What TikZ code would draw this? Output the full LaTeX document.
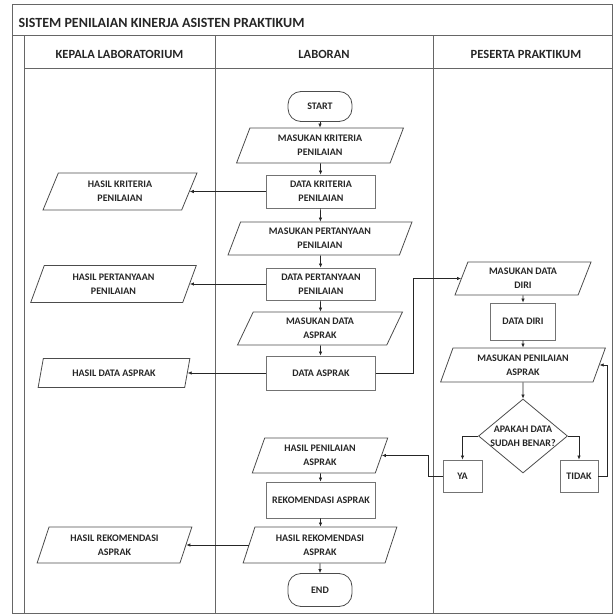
\documentclass[tikz,border=0pt]{standalone}
\usepackage{fontspec}
\setmainfont{Carlito}
\usetikzlibrary{shapes.geometric,arrows.meta}
\begin{document}
\begin{tikzpicture}[x=1pt,y=-1pt,
  frame/.style={draw=black!60, line width=1pt},
  txt/.style={font=\fontsize{10}{14}\selectfont\bfseries, align=center, text=black!85},
  io/.style={trapezium, trapezium left angle=70, trapezium right angle=110,
    trapezium stretches=true, draw=black!70, line width=0.8pt, inner sep=1pt, txt},
  proc/.style={rectangle, draw=black!55, line width=0.8pt, inner sep=1pt, txt},
  term/.style={rectangle, rounded corners=13pt, draw=black!70, line width=0.8pt,
    minimum width=64, minimum height=30, inner sep=1pt, txt},
  decision/.style={diamond, draw=black!70, line width=0.8pt, inner sep=0pt,
    minimum width=89, minimum height=74},
  arr/.style={draw=black!85, line width=0.7pt, -{Latex[length=4pt,width=3.5pt]}},
  hdr/.style={font=\fontsize{12.5}{15}\selectfont\bfseries, text=black!85}
]
\useasboundingbox (0,0) rectangle (616,615);

% frame of the swimlanes
\draw[frame] (12,5) rectangle (612,613);
\draw[frame] (12,36) -- (612,36);
\draw[frame] (24,69) -- (612,69);
\draw[frame] (24,36) -- (24,613);
\draw[frame] (215,36) -- (215,613);
\draw[frame] (433,36) -- (433,613);

\node[anchor=west, font=\fontsize{14}{16}\selectfont\bfseries, text=black!85] (title) at (15,22.5)
  {SISTEM PENILAIAN KINERJA ASISTEN PRAKTIKUM};
\node[hdr] (h1) at (119.5,54) {KEPALA LABORATORIUM};
\node[hdr] (h2) at (324,54) {LABORAN};
\node[hdr] (h3) at (526,54) {PESERTA PRAKTIKUM};

% LABORAN lane
\node[term] (start) at (320,106.5) {START};
\node[io, minimum width=167, minimum height=35] (mk) at (320,145.5) {MASUKAN KRITERIA\\PENILAIAN};
\node[proc, minimum width=109, minimum height=33] (dk) at (321,191.5) {DATA KRITERIA\\PENILAIAN};
\node[io, minimum width=184, minimum height=33] (mp) at (320,238.5) {MASUKAN PERTANYAAN\\PENILAIAN};
\node[proc, minimum width=109, minimum height=32] (dp) at (321,284) {DATA PERTANYAAN\\PENILAIAN};
\node[io, minimum width=166, minimum height=33] (mda) at (320,328.5) {MASUKAN DATA\\ASPRAK};
\node[proc, minimum width=109, minimum height=34] (da) at (321,373) {DATA ASPRAK};
\node[io, minimum width=136, minimum height=35] (hpa) at (320,455.5) {HASIL PENILAIAN\\ASPRAK};
\node[proc, minimum width=109, minimum height=36] (rek) at (321,500) {REKOMENDASI ASPRAK};
\node[io, minimum width=154, minimum height=36] (hra) at (320,545) {HASIL REKOMENDASI\\ASPRAK};
\node[term, minimum height=33] (end) at (320,590) {END};

% KEPALA LABORATORIUM lane
\node[io, minimum width=154, minimum height=37] (hk) at (120,191.5) {HASIL KRITERIA\\PENILAIAN};
\node[io, minimum width=167, minimum height=37] (hp) at (113.5,284) {HASIL PERTANYAAN\\PENILAIAN};
\node[io, minimum width=152, minimum height=29] (hd) at (114,373) {HASIL DATA ASPRAK};
\node[io, minimum width=155, minimum height=36] (hr) at (114.5,545) {HASIL REKOMENDASI\\ASPRAK};

% PESERTA PRAKTIKUM lane
\node[io, minimum width=137, minimum height=33] (mdd) at (523,278.5) {MASUKAN DATA\\DIRI};
\node[proc, minimum width=65, minimum height=37] (dd) at (523,321.5) {DATA DIRI};
\node[io, minimum width=165, minimum height=34] (mpa) at (523,365) {MASUKAN PENILAIAN\\ASPRAK};
\node[decision, label={[txt]center:{APAKAH DATA\\SUDAH BENAR?}}] (dia) at (523,436) {};
\node[proc, minimum width=39, minimum height=32] (ya) at (462.5,476) {YA};
\node[proc, minimum width=38, minimum height=32] (tidak) at (579,476) {TIDAK};

\coordinate (j1) at (413,373);
\coordinate (j2) at (607,476);
\coordinate (j3) at (428,476);

% flow in LABORAN
\draw[arr] (start) -- (mk);
\draw[arr] (mk) -- (dk);
\draw[arr] (dk) -- (mp);
\draw[arr] (mp) -- (dp);
\draw[arr] (dp) -- (mda);
\draw[arr] (mda) -- (da);
\draw[arr] (hpa) -- (rek);
\draw[arr] (rek) -- (hra);
\draw[arr] (hra) -- (end);

% to KEPALA
\draw[arr] (dk.west) -- (dk.west -| hk.east);
\draw[arr] (dp.west) -- (dp.west -| hp.east);
\draw[arr] (da.west) -- (da.west -| hd.east);
\draw[arr] (hra.west) -- (hra.west -| hr.east);

% to PESERTA
\draw[arr] (da.east) -- (j1) |- (mdd.west);
\draw[arr] (mdd) -- (dd);
\draw[arr] (dd) -- (mpa);
\draw[arr] (mpa) -- (dia);
\draw[arr] (dia.west) -| (ya.north);
\draw[arr] (dia.east) -| (tidak.north);
\draw[arr] (tidak.east) -- (j2) |- (mpa.east);
\draw[arr] (ya.west) -- (j3) |- (hpa.east);
\end{tikzpicture}
\end{document}
